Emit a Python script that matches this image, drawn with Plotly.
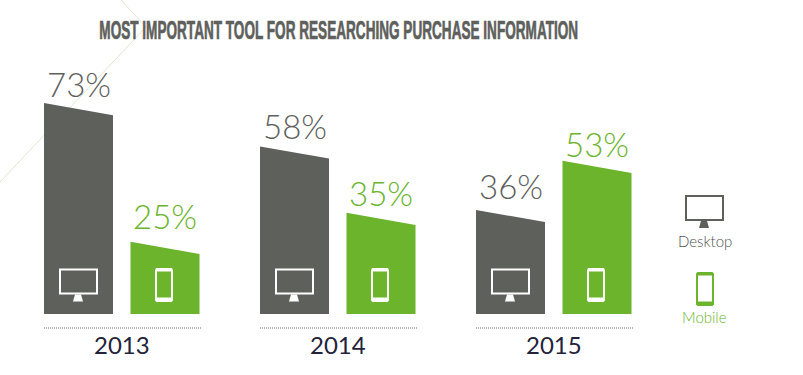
import plotly.graph_objects as go

# --- data ---
years = ["2013", "2014", "2015"]
desktop = [73, 58, 36]
mobile = [25, 35, 53]
title = "MOST IMPORTANT TOOL FOR RESEARCHING PURCHASE INFORMATION"

# --- style / layout constants ---
W, H = 803, 375
GRAY, GREEN, DARK = "#5e605c", "#6bb42c", "#23233a"
BASE_PX, PX_PER_PCT = 314, 2.89
GROUP_STEP, BAR_W = 216, 69
DESK_X, MOB_X = 44, 130.5
SLANT = 4.2  # fall of the bar top, in value units
DESK_LABEL_SHIFT = [19, 20, 24]
MOB_LABEL_SHIFT = [26, 20, 17]
NUM_FONT = "Lato"


def bar(x0, value, color):
    x = [x0, x0, x0 + BAR_W, x0 + BAR_W, x0]
    y = [0, value, value - SLANT, 0, 0]
    return go.Scatter(x=x, y=y, mode="lines", fill="toself", fillcolor=color,
                      line=dict(width=0), hoverinfo="skip", showlegend=False)


fig = go.Figure()

def ypx(p):
    return (BASE_PX - p) / PX_PER_PCT

# faint background chevron
fig.add_trace(go.Scatter(x=[0, 146, 121], y=[ypx(182), ypx(27), ypx(0)], mode="lines",
                         line=dict(color="#dfe6cf", width=1), hoverinfo="skip", showlegend=False))

shapes, annos = [], []


def rect(x0, y0, x1, y1, **kw):
    shapes.append(dict(type="rect", xref="x", yref="y", x0=x0, x1=x1, y0=ypx(y0), y1=ypx(y1), layer="above", **kw))


def poly(pts, color):
    path = "M " + " L ".join(f"{x},{ypx(y):.3f}" for x, y in pts) + " Z"
    shapes.append(dict(type="path", xref="x", yref="y", path=path, fillcolor=color, line=dict(width=0), layer="above"))


def monitor(x, y, color):
    rect(x + 1, y + 1, x + 38, y + 25, line=dict(color=color, width=2), fillcolor="rgba(0,0,0,0)")
    poly([(x + 16, y + 26), (x + 22, y + 26), (x + 24, y + 33), (x + 14, y + 33)], color)


def phone(x, y, color, inner):
    r = 1.5
    poly([(x + r, y), (x + 18 - r, y), (x + 18, y + r), (x + 18, y + 34 - r), (x + 18 - r, y + 34),
          (x + r, y + 34), (x, y + 34 - r), (x, y + r)], color)
    rect(x + 2, y + 3.5, x + 16, y + 29.5, line=dict(width=0), fillcolor=inner)


def text(x, y, s, size, color, family=NUM_FONT, weight=300, yshift=0):
    annos.append(dict(x=x, y=y, xref="x", yref="y", text=s, showarrow=False, xanchor="center", yanchor="middle",
                      yshift=yshift, font=dict(family=family, size=size, color=color, weight=weight)))


for i, yr in enumerate(years):
    off = i * GROUP_STEP
    fig.add_trace(bar(DESK_X + off, desktop[i], GRAY))
    fig.add_trace(bar(MOB_X + off, mobile[i], GREEN))
    text(DESK_X + off + BAR_W / 2, desktop[i], f"{desktop[i]}%", 33, GRAY, yshift=DESK_LABEL_SHIFT[i])
    text(MOB_X + off + BAR_W / 2, mobile[i], f"{mobile[i]}%", 33, GREEN, yshift=MOB_LABEL_SHIFT[i])
    monitor(DESK_X + 15 + off, 268.5, "white")
    phone(MOB_X + 25 + off - 0.5, 268, "white", GREEN)
    shapes.append(dict(type="line", xref="x", yref="y", x0=44 + off, x1=202 + off, y0=ypx(328), y1=ypx(328),
                       line=dict(color="#6f706d", width=1, dash="1px,1px")))
    text(122 + off, ypx(344), yr, 24, DARK, weight=400)

# key
monitor(685, 195, GRAY)
phone(696, 272, GREEN, "white")
text(704.5, ypx(241), "Desktop", 15, "#4f514e")
text(704.5, ypx(317), "Mobile", 15, GREEN)

# title
annos.append(dict(x=338.5, y=ypx(29.5), xref="x", yref="y", text=title, showarrow=False, xanchor="center", yanchor="middle",
                  font=dict(family="Liberation Sans", size=25, color=GRAY, weight=700)))

fig.update_layout(
    width=W, height=H, margin=dict(l=0, r=0, t=0, b=0), paper_bgcolor="white", plot_bgcolor="white",
    xaxis=dict(range=[0, W], visible=False, fixedrange=True),
    yaxis=dict(range=[ypx(H), ypx(0)], visible=False, fixedrange=True),
    shapes=shapes, annotations=annos, showlegend=False,
)

# Bebas-like condensed title: no condensed face is installed, so narrow the real text to its 479 px width
# and thicken its strokes.
squeeze = """
document.body.style.margin='0';
document.querySelectorAll('text.annotation-text').forEach(function(t){
  if (t.textContent.indexOf('MOST') !== 0) return;
  var b = t.getBBox(), s = 479 / b.width, cx = b.x + b.width / 2;
  var old = t.getAttribute('transform') || '';
  t.setAttribute('transform', old + ' translate(' + cx + ',0) scale(' + s + ',1) translate(' + (-cx) + ',0)');
  t.style.stroke = '#5e605c';
  t.style.strokeWidth = '0.7px';
});
"""
fig.write_html("out.html", config=dict(displayModeBar=False), post_script=squeeze)
